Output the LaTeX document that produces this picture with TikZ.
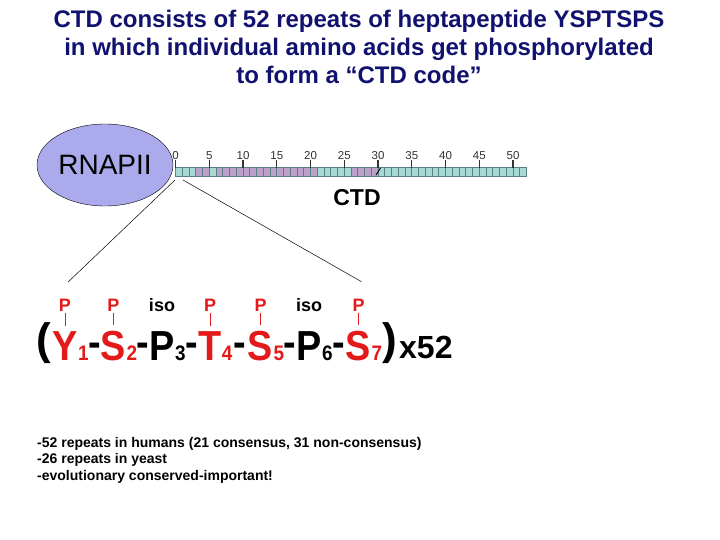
\documentclass[tikz,border=0pt]{standalone}
\usepackage{fontspec}
\setmainfont{Liberation Sans}
\newfontfamily\ctdnarrow[FakeStretch=0.9]{Liberation Sans}
\usetikzlibrary{positioning,calc,shapes.geometric}
\definecolor{ctdNavy}{HTML}{111170}
\definecolor{ctdRed}{HTML}{E41A1A}
\definecolor{ctdLav}{HTML}{AAAAEC}
\definecolor{ctdTeal}{HTML}{A8DAD5}
\definecolor{ctdMauve}{HTML}{BCA0CA}
\definecolor{ctdGrid}{HTML}{5A8084}
\definecolor{ctdTick}{HTML}{333333}
\newcommand{\ctdsize}[1]{\fontsize{#1}{#1}\selectfont}
\tikzset{
  titletext/.style={inner sep=0pt,align=center,text=ctdNavy,
    font=\bfseries\fontsize{24}{28}\selectfont},
  rnapblob/.style={ellipse,draw=black,fill=ctdLav,minimum width=136pt,
    minimum height=82pt,inner sep=0pt,font=\ctdsize{28}},
  cellbox/.style={draw=ctdGrid,line width=0.6pt},
  rulertick/.style={draw=ctdTick,line width=1.1pt},
  rulernum/.style={anchor=base,inner sep=0pt,text=ctdTick,font=\ctdsize{11.5}},
  residue/.style={anchor=base,inner sep=0pt,font=\ctdnarrow\bfseries\ctdsize{42}},
  subnum/.style={anchor=base west,inner sep=0pt,font=\ctdnarrow\bfseries\ctdsize{21}},
  hyph/.style={anchor=base,inner sep=0pt,yshift=4pt,font=\ctdnarrow\bfseries\ctdsize{42}},
  paren/.style={anchor=base,inner sep=0pt,font=\bfseries\ctdsize{44}},
  plabel/.style={inner sep=0pt,text=ctdRed,font=\bfseries\ctdsize{18}},
  isolabel/.style={inner sep=0pt,font=\bfseries\ctdsize{18}},
  ptick/.style={draw=ctdRed,line width=0.8pt},
  zoomline/.style={draw=black,line width=0.5pt},
  notes/.style={inner sep=0pt,align=left,font=\bfseries\fontsize{14}{16.5}\selectfont}
}
\begin{document}
\begin{tikzpicture}[x=1pt,y=-1pt]
  \fill[white] (0,0) rectangle (720,540);
  \useasboundingbox (0,0) rectangle (720,540);
  % title
  \node[titletext, anchor=north] (title) at (359,10)
    {CTD consists of 52 repeats of heptapeptide YSPTSPS\\
     in which individual amino acids get phosphorylated\\
     to form a “CTD code”};
  % polymerase and CTD ruler
  \node[rnapblob] (rnap) at (105,165) {RNAPII};
  \foreach \i in {1,...,52}
    \draw[cellbox, fill=ctdTeal] ({175.5+(\i-1)*6.75},167) rectangle ++(6.75,9);
  \foreach \i in {4,5,7,8,...,21,27,28,...,30}
    \draw[cellbox, fill=ctdMauve] ({175.5+(\i-1)*6.75},167) rectangle ++(6.75,9);
  \foreach \k in {0,5,...,50} {
    \draw[rulertick] ({175.5+\k*6.75},160) -- ++(0,8);
    \node[rulernum] (n\k) at ({175.5+\k*6.75},159.5) {\k};
  }
  \draw[line width=0.9pt] (376,175) -- (380.5,168);
  \node[inner sep=0pt, anchor=base, font=\bfseries\ctdsize{23}] (ctdlbl) at (357,206) {CTD};
  \coordinate (ctdL) at (175,180);
  \coordinate (ctdR) at (183,180);
  % heptad
  \node[paren] (lp) at (44,354) {(};
  \foreach \res/\n/\x/\col in {Y/1/65/ctdRed, S/2/113.5/ctdRed, P/3/162/black,
      T/4/210/ctdRed, S/5/260.5/ctdRed, P/6/309/black, S/7/358.5/ctdRed} {
    \node[residue, text=\col] (r\n) at (\x,360) {\res};
    \node[subnum, text=\col] (s\n) at (r\n.base east) {\n};
  }
  \foreach \a/\b in {1/2,2/3,3/4,4/5,5/6,6/7}
    \node[hyph] (h\a) at ($(s\a.base east)!0.5!(r\b.base west)$) {-};
  \node[paren] (rp) at (390,354) {)};
  \node[inner sep=0pt, anchor=base west, font=\bfseries\ctdsize{32}] (times) at (399,358) {x52};
  % modifications
  \foreach \n in {1,2,4,5,7} {
    \node[plabel, above=19pt of r\n] (p\n) {P};
    \draw[ptick] ([yshift=-1.5pt]p\n.south) -- ([yshift=5pt]r\n.north);
  }
  \node[isolabel, above=19pt of r3] (iso3) {iso};
  \node[isolabel, above=19pt of r6] (iso6) {iso};
  \draw[zoomline] (ctdL) -- ([xshift=3pt,yshift=17pt]p1.north);
  \draw[zoomline] (ctdR) -- ([xshift=3pt,yshift=17pt]p7.north);
  % notes
  \node[notes, anchor=north west] (notes) at (37,437)
    {-52 repeats in humans (21 consensus, 31 non-consensus)\\
     -26 repeats in yeast\\
     -evolutionary conserved-important!};
\end{tikzpicture}
\end{document}
